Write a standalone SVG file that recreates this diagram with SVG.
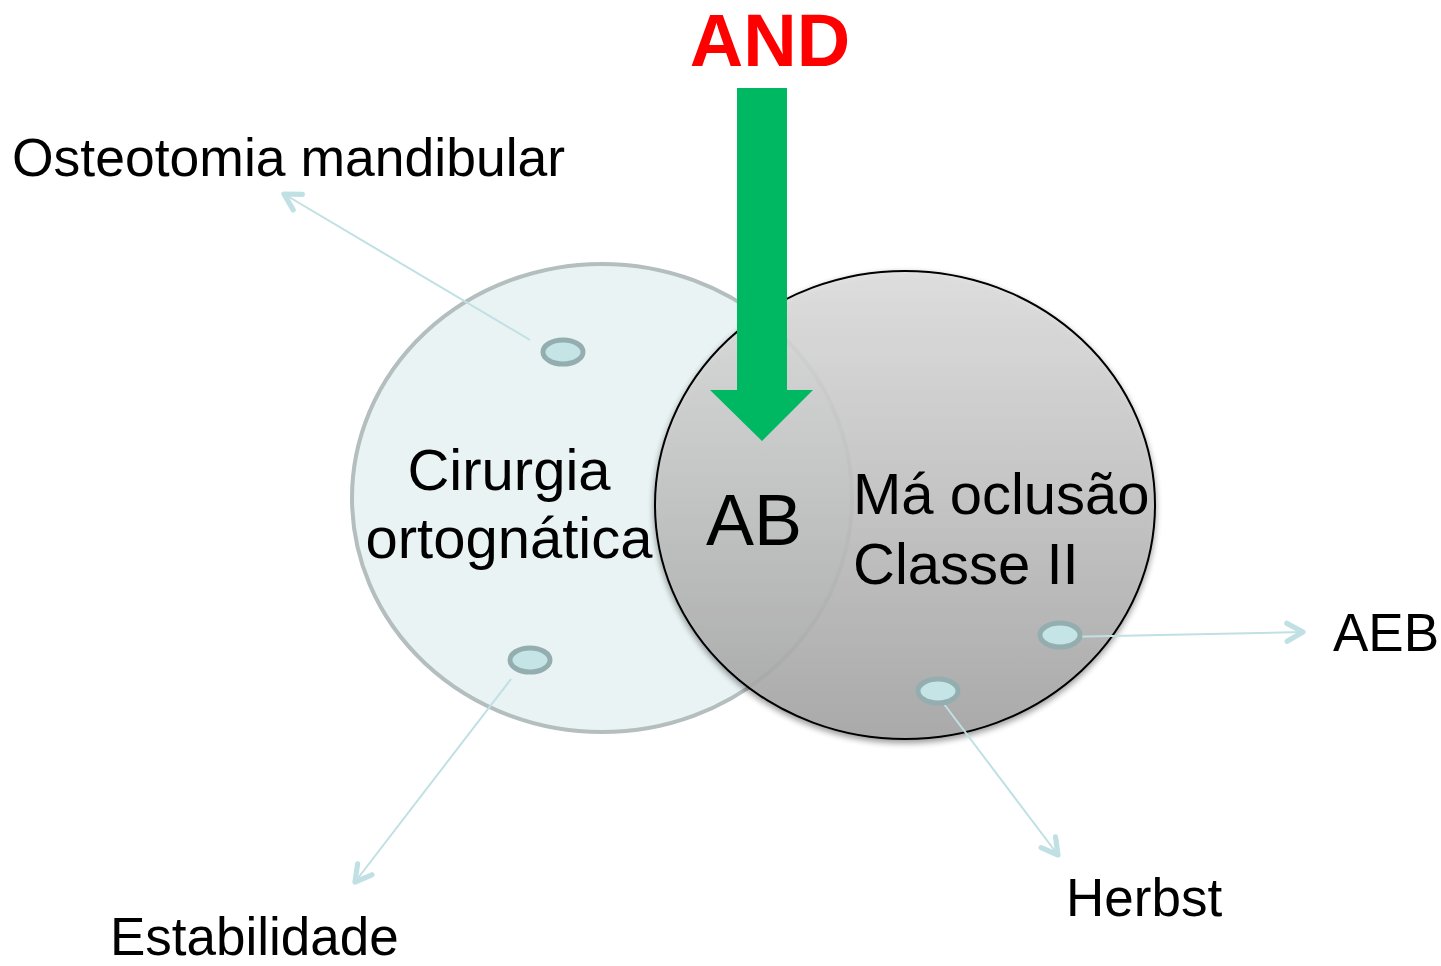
<svg xmlns="http://www.w3.org/2000/svg" width="1441" height="966" viewBox="0 0 1441 966">
<style>
.lbl{font-family:"Liberation Sans",Arial,sans-serif;fill:#000;}
.side{font-size:53px;}
.big{font-size:58px;}
.dot{fill:#c5e4e6;stroke:#94aeb0;stroke-width:5;}
.conn{stroke:#c0e0e4;stroke-width:2;fill:none;}
</style>
<defs>
<linearGradient id="gray" x1="0" y1="0" x2="0" y2="1">
<stop offset="0" stop-color="#e0e0e0"/>
<stop offset="1" stop-color="#a6a6a6"/>
</linearGradient>
<filter id="shadow" x="-10%" y="-10%" width="120%" height="125%">
<feGaussianBlur in="SourceAlpha" stdDeviation="3"/>
<feOffset dx="0" dy="3" result="b"/>
<feComponentTransfer><feFuncA type="linear" slope="0.45"/></feComponentTransfer>
<feMerge><feMergeNode/><feMergeNode in="SourceGraphic"/></feMerge>
</filter>
<marker id="chev" viewBox="0 0 12 12" refX="10" refY="6" markerWidth="24" markerHeight="24" markerUnits="userSpaceOnUse" orient="auto">
<path d="M2,1.5 L10,6 L2,10.5" fill="none" stroke="#c0e0e4" stroke-width="2.6" stroke-linecap="round" stroke-linejoin="round"/>
</marker>
</defs>
<rect width="1441" height="966" fill="#fff"/>
<g id="setA">
<ellipse cx="602" cy="498" rx="250" ry="234" fill="#e9f3f4" stroke="#b4bebe" stroke-width="4"/>
</g>
<g id="setB">
<ellipse cx="905" cy="505" rx="250" ry="234" fill="url(#gray)" fill-opacity="0.86" stroke="#000" stroke-width="2" filter="url(#shadow)"/>
</g>
<g id="andArrow">
<polygon points="737,88 787,88 787,390 813,390 762,441 710,390 737,390" fill="#00b862"/>
<text class="lbl" x="770" y="66" font-size="74" font-weight="bold" text-anchor="middle" style="fill:#ff0000">AND</text>
</g>
<g id="connectors">
<line class="conn" x1="530" y1="340" x2="284" y2="194" marker-end="url(#chev)"/>
<line class="conn" x1="511" y1="679" x2="355" y2="882" marker-end="url(#chev)"/>
<line class="conn" x1="1062" y1="637" x2="1303" y2="632" marker-end="url(#chev)"/>
<line class="conn" x1="944" y1="704" x2="1058" y2="855" marker-end="url(#chev)"/>
</g>
<g id="dots">
<ellipse class="dot" cx="563" cy="352" rx="20" ry="12"/>
<ellipse class="dot" cx="530" cy="660" rx="20" ry="12"/>
<ellipse class="dot" cx="1060" cy="635" rx="20" ry="12"/>
<ellipse class="dot" cx="938" cy="691" rx="20" ry="12"/>
</g>
<g id="labelA">
<text class="lbl big" x="509" y="490" text-anchor="middle">Cirurgia</text>
<text class="lbl big" x="509" y="558" text-anchor="middle">ortognática</text>
</g>
<g id="labelAB">
<text class="lbl" x="754" y="545" font-size="72" text-anchor="middle">AB</text>
</g>
<g id="labelB">
<text class="lbl big" x="853" y="514">Má oclusão</text>
<text class="lbl big" x="853" y="584">Classe II</text>
</g>
<g id="osteotomia"><text class="lbl" x="12" y="176" font-size="53.5">Osteotomia mandibular</text></g>
<g id="estabilidade"><text class="lbl side" x="110" y="955">Estabilidade</text></g>
<g id="aeb"><text class="lbl side" x="1333" y="651">AEB</text></g>
<g id="herbst"><text class="lbl side" x="1066" y="916">Herbst</text></g>
</svg>
